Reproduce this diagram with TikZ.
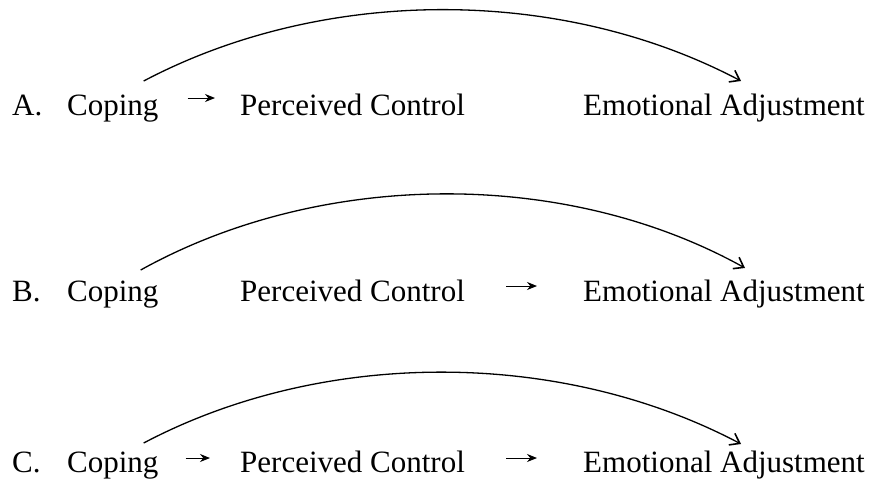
\documentclass[tikz,border=0pt]{standalone}
\usepackage{fontspec}
\setmainfont{Liberation Serif}
\usepackage{tikz}
\usetikzlibrary{arrows.meta}

\begin{document}
\begin{tikzpicture}[->,>={Stealth[length=10pt,width=8pt]},x=1pt,y=-1pt,
        every node/.style={inner sep=0pt,anchor=base west,
                           font=\fontsize{31}{36}\selectfont},
        link/.style={line width=1pt},
        effect/.style={line width=1.3pt,-{Straight Barb[length=9pt,width=13pt,line width=1.6pt]}}]
\useasboundingbox (0,0) rectangle (873,480);

% row A
\node (A) at (12,115) {A.};
 \node (cop/A) at (67,115) {Coping};
 \node (ctl/A) at (240,115) {Perceived Control};
 \node (adj/A) at (583,115) {Emotional Adjustment};
% row B
\node (B) at (12,301) {B.};
 \node (cop/B) at (67,301) {Coping};
 \node (ctl/B) at (240,301) {Perceived Control};
 \node (adj/B) at (583,301) {Emotional Adjustment};
% row C
\node (C) at (12,472) {C.};
 \node (cop/C) at (67,472) {Coping};
 \node (ctl/C) at (240,472) {Perceived Control};
 \node (adj/C) at (583,472) {Emotional Adjustment};

 \draw[link] ([xshift=29pt,yshift=17pt]cop/A.base east) -- ([xshift=-25pt,yshift=17pt]ctl/A.base west);
 \draw[link] ([xshift=41pt,yshift=15pt]ctl/B.base east) -- ([xshift=-46pt,yshift=15pt]adj/B.base west);
 \draw[link] ([xshift=27pt,yshift=14pt]cop/C.base east) -- ([xshift=-30pt,yshift=14pt]ctl/C.base west);
 \draw[link] ([xshift=41pt,yshift=14pt]ctl/C.base east) -- ([xshift=-46pt,yshift=14pt]adj/C.base west);

 \draw[effect] ([xshift=-15pt,yshift=34pt]cop/A.base east) .. controls +(180,-95) and +(-180,-95) .. ([xshift=158pt,yshift=34pt]adj/A.base west);
 \draw[effect] ([xshift=-18pt,yshift=31pt]cop/B.base east) .. controls +(180,-100) and +(-180,-100) .. ([xshift=162pt,yshift=33pt]adj/B.base west);
 \draw[effect] ([xshift=-15pt,yshift=29pt]cop/C.base east) .. controls +(180,-95) and +(-180,-95) .. ([xshift=158pt,yshift=28pt]adj/C.base west);

\end{tikzpicture}
\end{document}
